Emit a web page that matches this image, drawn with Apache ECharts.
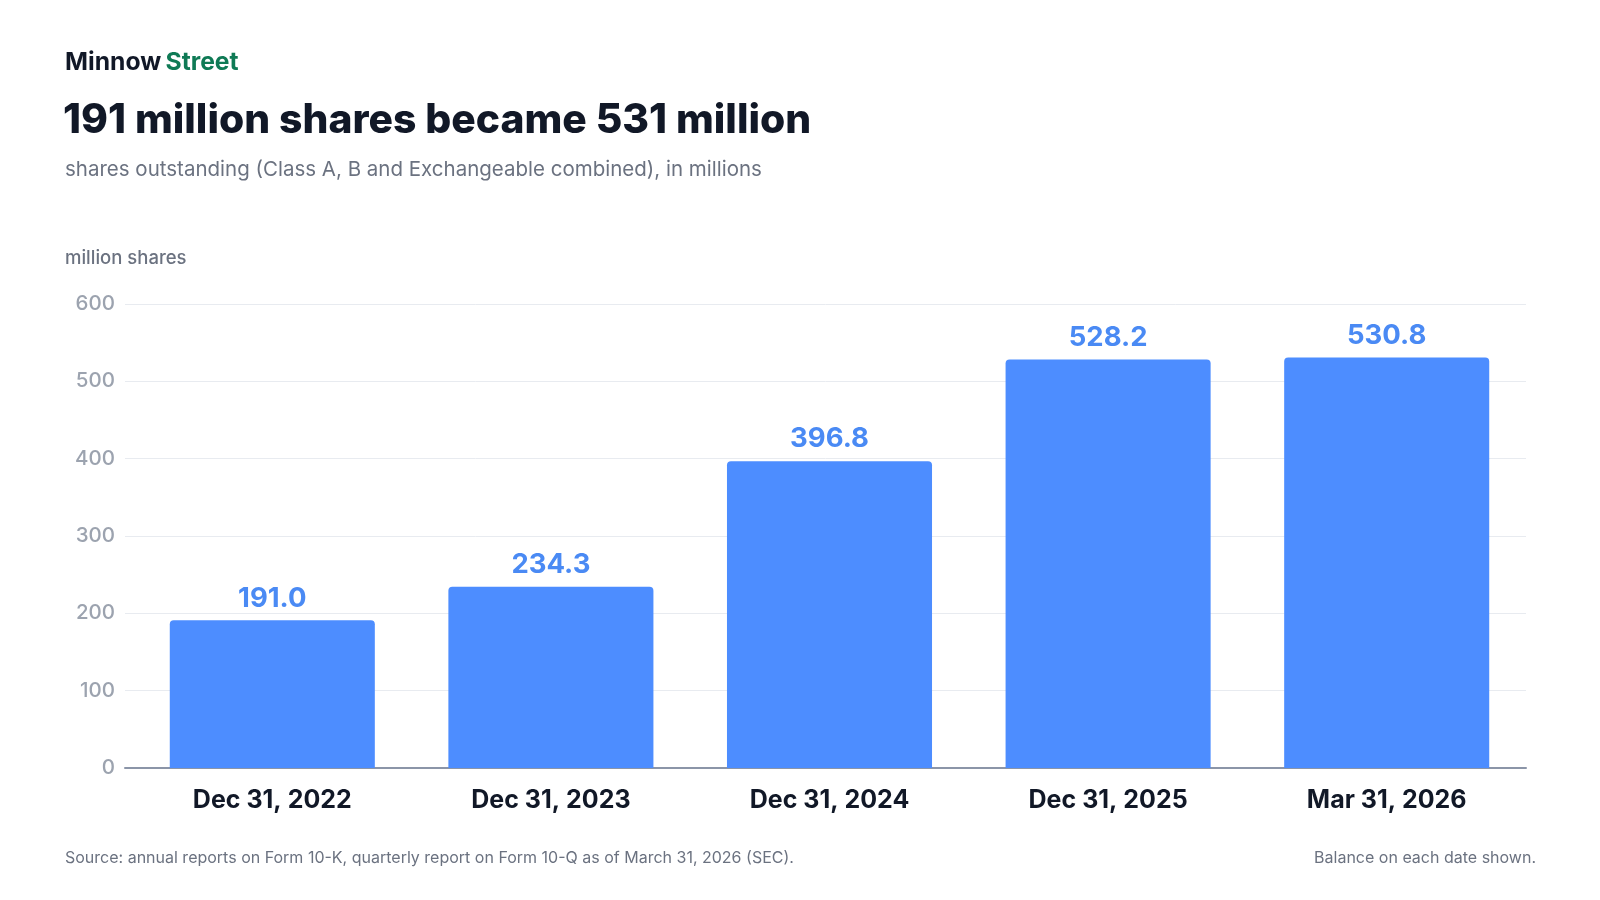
<!DOCTYPE html>
<html>
<head>
<meta charset="utf-8">
<script src="https://cdn.jsdelivr.net/npm/echarts@6/dist/echarts.min.js"></script>
<style>
  html, body { margin: 0; padding: 0; background: #fff; }
  #chart { width: 1600px; height: 900px; }
</style>
</head>
<body>
<div id="chart"></div>
<script>
var dates = ['Dec 31, 2022', 'Dec 31, 2023', 'Dec 31, 2024', 'Dec 31, 2025', 'Mar 31, 2026'];
var shares = [191.0, 234.3, 396.8, 528.2, 530.8];
var yTicks = [0, 100, 200, 300, 400, 500, 600];

var font = 'Inter, "Noto Sans", sans-serif';
var chart = echarts.init(document.getElementById('chart'));

// grid 0 carries the gridlines, baseline and y labels (slightly wider),
// grid 1 carries the bars and date labels
var option = {
  backgroundColor: '#ffffff',
  textStyle: { fontFamily: font },
  title: [
    {
      text: '{a|Minnow} {b|Street}',
      left: 65, top: 50, padding: 0,
      textStyle: {
        rich: {
          a: { fontFamily: font, fontSize: 24.7, fontWeight: 700, color: '#111827' },
          b: { fontFamily: font, fontSize: 24.7, fontWeight: 700, color: '#0f7a55' }
        }
      }
    },
    {
      text: '191 million shares became 531 million',
      left: 63, top: 100, padding: 0,
      textStyle: { fontFamily: font, fontSize: 40.8, fontWeight: 800, color: '#111827' }
    },
    {
      text: 'shares outstanding (Class A, B and Exchangeable combined), in millions',
      left: 65, top: 159, padding: 0,
      textStyle: { fontFamily: font, fontSize: 20.5, fontWeight: 400, color: '#6b7280' }
    },
    {
      text: 'million shares',
      left: 65, top: 249, padding: 0,
      textStyle: { fontFamily: font, fontSize: 18.5, fontWeight: 500, color: '#6b7280' }
    },
    {
      text: 'Source: annual reports on Form 10-K, quarterly report on Form 10-Q as of March 31, 2026 (SEC).',
      left: 65, top: 850, padding: 0,
      textStyle: { fontFamily: font, fontSize: 16, fontWeight: 400, color: '#6b7280' }
    },
    {
      text: 'Balance on each date shown.',
      right: 64, top: 850, padding: 0,
      textStyle: { fontFamily: font, fontSize: 16, fontWeight: 400, color: '#6b7280' }
    }
  ],
  grid: [
    { left: 125, right: 74, top: 304, bottom: 132 },
    { left: 133, right: 74, top: 304, bottom: 132 }
  ],
  xAxis: [
    {
      gridIndex: 0,
      type: 'value', min: 0, max: 1,
      axisLabel: { show: false },
      axisTick: { show: false },
      splitLine: { show: false },
      axisLine: { show: true, onZero: false, lineStyle: { color: '#8b95a8', width: 2 } }
    },
    {
      gridIndex: 1,
      type: 'category',
      data: dates,
      axisTick: { show: false },
      axisLine: { show: false },
      axisLabel: {
        margin: 20,
        fontFamily: font, fontSize: 25, fontWeight: 700, color: '#111827'
      }
    }
  ],
  yAxis: [
    {
      gridIndex: 0,
      type: 'value',
      min: yTicks[0],
      max: yTicks[yTicks.length - 1],
      interval: 100,
      axisLine: { show: false },
      axisTick: { show: false },
      splitLine: { lineStyle: { color: '#e8ebf0', width: 1 } },
      axisLabel: {
        margin: 10,
        fontFamily: font, fontSize: 20.5, fontWeight: 500, color: '#9ca3af'
      }
    },
    {
      gridIndex: 1,
      type: 'value',
      min: yTicks[0],
      max: yTicks[yTicks.length - 1],
      interval: 100,
      show: false
    }
  ],
  series: [{
    type: 'bar',
    xAxisIndex: 1,
    yAxisIndex: 1,
    data: shares,
    barWidth: '73.6%',
    itemStyle: { color: '#4d8dff', borderRadius: [4, 4, 0, 0] },
    label: {
      show: true,
      position: 'top',
      distance: 8,
      formatter: function (p) { return p.value.toFixed(1); },
      fontFamily: font, fontSize: 27.5, fontWeight: 700, color: '#4a8af4'
    },
    silent: true
  }],
  animation: false
};

chart.setOption(option);
</script>
</body>
</html>
